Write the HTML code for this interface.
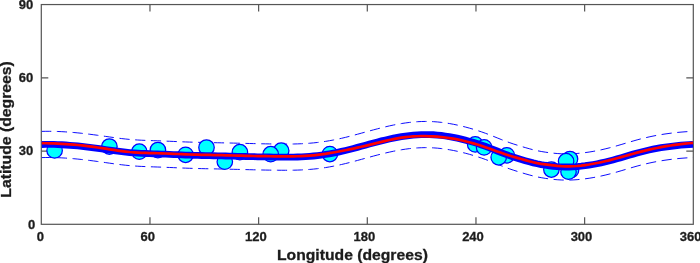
<!DOCTYPE html>
<html><head><meta charset="utf-8"><title>Latitude vs Longitude</title>
<style>html,body{margin:0;padding:0;background:#fff}svg{display:block}</style></head>
<body>
<svg width="700" height="263" viewBox="0 0 700 263">
<rect width="700" height="263" fill="#fff"/>
<g stroke="#555555" stroke-width="1.2" fill="none">
<rect x="41.3" y="4.55" width="652.0" height="219.75"/>
<path d="M149.97 224.3 v-7.0 M149.97 4.55 v7.0"/>
<path d="M258.63 224.3 v-7.0 M258.63 4.55 v7.0"/>
<path d="M367.30 224.3 v-7.0 M367.30 4.55 v7.0"/>
<path d="M475.97 224.3 v-7.0 M475.97 4.55 v7.0"/>
<path d="M584.63 224.3 v-7.0 M584.63 4.55 v7.0"/>
<path d="M41.3 151.05 h7.0 M693.3 151.05 h-7.0"/>
<path d="M41.3 77.80 h7.0 M693.3 77.80 h-7.0"/>
</g>
<g fill="none" stroke="#0000ff" stroke-width="0.95" stroke-dashoffset="0.7" stroke-dasharray="10.2 5.557">
<path d="M41.8 131.39 L45.8 131.31 L49.8 131.30 L53.8 131.36 L57.8 131.48 L61.8 131.66 L65.8 131.90 L69.8 132.18 L73.8 132.51 L77.8 132.89 L81.8 133.31 L85.7 133.76 L89.7 134.24 L93.7 134.75 L97.7 135.29 L101.7 135.84 L105.7 136.41 L109.7 136.98 L113.7 137.54 L117.7 138.08 L121.7 138.58 L125.7 139.03 L129.7 139.42 L133.7 139.75 L137.7 140.01 L141.7 140.23 L145.7 140.40 L149.7 140.55 L153.7 140.69 L157.7 140.82 L161.7 140.96 L165.6 141.12 L169.6 141.28 L173.6 141.45 L177.6 141.62 L181.6 141.79 L185.6 141.94 L189.6 142.09 L193.6 142.21 L197.6 142.32 L201.6 142.42 L205.6 142.51 L209.6 142.59 L213.6 142.67 L217.6 142.75 L221.6 142.83 L225.6 142.92 L229.6 143.01 L233.6 143.10 L237.6 143.20 L241.6 143.29 L245.5 143.39 L249.5 143.49 L253.5 143.59 L257.5 143.68 L261.5 143.77 L265.5 143.85 L269.5 143.92 L273.5 143.98 L277.5 144.03 L281.5 144.06 L285.5 144.07 L289.5 144.05 L293.5 143.99 L297.5 143.89 L301.5 143.73 L305.5 143.52 L309.5 143.24 L313.5 142.89 L317.5 142.46 L321.5 141.96 L325.5 141.38 L329.4 140.73 L333.4 140.00 L337.4 139.20 L341.4 138.33 L345.4 137.39 L349.4 136.39 L353.4 135.34 L357.4 134.26 L361.4 133.17 L365.4 132.06 L369.4 130.96 L373.4 129.88 L377.4 128.83 L381.4 127.81 L385.4 126.83 L389.4 125.91 L393.4 125.06 L397.4 124.27 L401.4 123.57 L405.4 122.96 L409.3 122.44 L413.3 122.02 L417.3 121.71 L421.3 121.52 L425.3 121.44 L429.3 121.48 L433.3 121.65 L437.3 121.95 L441.3 122.36 L445.3 122.89 L449.3 123.53 L453.3 124.26 L457.3 125.09 L461.3 126.00 L465.3 127.00 L469.3 128.08 L473.3 129.24 L477.3 130.49 L481.3 131.81 L485.3 133.22 L489.3 134.71 L493.2 136.28 L497.2 137.89 L501.2 139.49 L505.2 141.05 L509.2 142.53 L513.2 143.88 L517.2 145.15 L521.2 146.37 L525.2 147.57 L529.2 148.71 L533.2 149.77 L537.2 150.69 L541.2 151.47 L545.2 152.14 L549.2 152.70 L553.2 153.16 L557.2 153.53 L561.2 153.78 L565.2 153.90 L569.2 153.88 L573.1 153.73 L577.1 153.46 L581.1 153.08 L585.1 152.61 L589.1 152.05 L593.1 151.40 L597.1 150.66 L601.1 149.83 L605.1 148.92 L609.1 147.93 L613.1 146.87 L617.1 145.74 L621.1 144.57 L625.1 143.38 L629.1 142.18 L633.1 141.02 L637.1 139.89 L641.1 138.82 L645.1 137.84 L649.1 136.92 L653.0 136.08 L657.0 135.32 L661.0 134.62 L665.0 133.99 L669.0 133.43 L673.0 132.93 L677.0 132.49 L681.0 132.11 L685.0 131.79 L689.0 131.52 L693.0 131.31"/>
<path d="M41.8 157.59 L45.8 157.51 L49.8 157.50 L53.8 157.56 L57.8 157.68 L61.8 157.86 L65.8 158.10 L69.8 158.38 L73.8 158.71 L77.8 159.09 L81.8 159.51 L85.7 159.96 L89.7 160.44 L93.7 160.95 L97.7 161.49 L101.7 162.04 L105.7 162.61 L109.7 163.18 L113.7 163.74 L117.7 164.28 L121.7 164.78 L125.7 165.23 L129.7 165.62 L133.7 165.95 L137.7 166.21 L141.7 166.43 L145.7 166.60 L149.7 166.75 L153.7 166.89 L157.7 167.02 L161.7 167.16 L165.6 167.32 L169.6 167.48 L173.6 167.65 L177.6 167.82 L181.6 167.99 L185.6 168.14 L189.6 168.29 L193.6 168.41 L197.6 168.52 L201.6 168.62 L205.6 168.71 L209.6 168.79 L213.6 168.87 L217.6 168.95 L221.6 169.03 L225.6 169.12 L229.6 169.21 L233.6 169.30 L237.6 169.40 L241.6 169.49 L245.5 169.59 L249.5 169.69 L253.5 169.79 L257.5 169.88 L261.5 169.97 L265.5 170.05 L269.5 170.12 L273.5 170.18 L277.5 170.23 L281.5 170.26 L285.5 170.27 L289.5 170.25 L293.5 170.19 L297.5 170.09 L301.5 169.93 L305.5 169.72 L309.5 169.44 L313.5 169.09 L317.5 168.66 L321.5 168.16 L325.5 167.58 L329.4 166.93 L333.4 166.20 L337.4 165.40 L341.4 164.53 L345.4 163.59 L349.4 162.59 L353.4 161.54 L357.4 160.46 L361.4 159.37 L365.4 158.26 L369.4 157.16 L373.4 156.08 L377.4 155.03 L381.4 154.01 L385.4 153.03 L389.4 152.11 L393.4 151.26 L397.4 150.47 L401.4 149.77 L405.4 149.16 L409.3 148.64 L413.3 148.22 L417.3 147.91 L421.3 147.72 L425.3 147.64 L429.3 147.68 L433.3 147.85 L437.3 148.15 L441.3 148.56 L445.3 149.09 L449.3 149.73 L453.3 150.46 L457.3 151.29 L461.3 152.20 L465.3 153.20 L469.3 154.28 L473.3 155.44 L477.3 156.69 L481.3 158.01 L485.3 159.42 L489.3 160.91 L493.2 162.48 L497.2 164.09 L501.2 165.69 L505.2 167.25 L509.2 168.73 L513.2 170.08 L517.2 171.35 L521.2 172.57 L525.2 173.77 L529.2 174.91 L533.2 175.97 L537.2 176.89 L541.2 177.67 L545.2 178.34 L549.2 178.90 L553.2 179.36 L557.2 179.73 L561.2 179.98 L565.2 180.10 L569.2 180.08 L573.1 179.93 L577.1 179.66 L581.1 179.28 L585.1 178.81 L589.1 178.25 L593.1 177.60 L597.1 176.86 L601.1 176.03 L605.1 175.12 L609.1 174.13 L613.1 173.07 L617.1 171.94 L621.1 170.77 L625.1 169.58 L629.1 168.38 L633.1 167.22 L637.1 166.09 L641.1 165.02 L645.1 164.04 L649.1 163.12 L653.0 162.28 L657.0 161.52 L661.0 160.82 L665.0 160.19 L669.0 159.63 L673.0 159.13 L677.0 158.69 L681.0 158.31 L685.0 157.99 L689.0 157.72 L693.0 157.51"/>
</g>
<g fill="#00ffff" stroke="#0000ff" stroke-width="1.25">
<circle cx="54.6" cy="150.4" r="7.75"/>
<circle cx="109.4" cy="146.5" r="7.75"/>
<circle cx="139.3" cy="151.7" r="7.75"/>
<circle cx="157.9" cy="150.0" r="7.75"/>
<circle cx="185.6" cy="154.8" r="7.75"/>
<circle cx="206.5" cy="147.5" r="7.75"/>
<circle cx="224.8" cy="161.7" r="7.75"/>
<circle cx="239.9" cy="152.2" r="7.75"/>
<circle cx="281.2" cy="150.7" r="7.75"/>
<circle cx="270.7" cy="154.2" r="7.75"/>
<circle cx="329.9" cy="154.05" r="7.75"/>
<circle cx="475.2" cy="144.4" r="7.75"/>
<circle cx="484.1" cy="147.4" r="7.75"/>
<circle cx="506.8" cy="155.3" r="7.75"/>
<circle cx="498.7" cy="157.3" r="7.75"/>
<circle cx="551.4" cy="169.5" r="7.75"/>
<circle cx="571" cy="170.2" r="7.75"/>
<circle cx="568.5" cy="171.7" r="7.75"/>
<circle cx="570" cy="159" r="7.75"/>
<circle cx="566.1" cy="161.2" r="7.75"/>
</g>
<path d="M41.8 144.49 L45.8 144.41 L49.8 144.40 L53.8 144.46 L57.8 144.58 L61.8 144.76 L65.8 145.00 L69.8 145.28 L73.8 145.61 L77.8 145.99 L81.8 146.41 L85.7 146.86 L89.7 147.34 L93.7 147.85 L97.7 148.39 L101.7 148.94 L105.7 149.51 L109.7 150.08 L113.7 150.64 L117.7 151.18 L121.7 151.68 L125.7 152.13 L129.7 152.52 L133.7 152.85 L137.7 153.11 L141.7 153.33 L145.7 153.50 L149.7 153.65 L153.7 153.79 L157.7 153.92 L161.7 154.06 L165.6 154.22 L169.6 154.38 L173.6 154.55 L177.6 154.72 L181.6 154.89 L185.6 155.04 L189.6 155.19 L193.6 155.31 L197.6 155.42 L201.6 155.52 L205.6 155.61 L209.6 155.69 L213.6 155.77 L217.6 155.85 L221.6 155.93 L225.6 156.02 L229.6 156.11 L233.6 156.20 L237.6 156.30 L241.6 156.39 L245.5 156.49 L249.5 156.59 L253.5 156.69 L257.5 156.78 L261.5 156.87 L265.5 156.95 L269.5 157.02 L273.5 157.08 L277.5 157.13 L281.5 157.16 L285.5 157.17 L289.5 157.15 L293.5 157.09 L297.5 156.99 L301.5 156.83 L305.5 156.62 L309.5 156.34 L313.5 155.99 L317.5 155.56 L321.5 155.06 L325.5 154.48 L329.4 153.83 L333.4 153.10 L337.4 152.30 L341.4 151.43 L345.4 150.49 L349.4 149.49 L353.4 148.44 L357.4 147.36 L361.4 146.27 L365.4 145.16 L369.4 144.06 L373.4 142.98 L377.4 141.93 L381.4 140.91 L385.4 139.93 L389.4 139.01 L393.4 138.16 L397.4 137.37 L401.4 136.67 L405.4 136.06 L409.3 135.54 L413.3 135.12 L417.3 134.81 L421.3 134.62 L425.3 134.54 L429.3 134.58 L433.3 134.75 L437.3 135.05 L441.3 135.46 L445.3 135.99 L449.3 136.63 L453.3 137.36 L457.3 138.19 L461.3 139.10 L465.3 140.10 L469.3 141.18 L473.3 142.34 L477.3 143.59 L481.3 144.91 L485.3 146.32 L489.3 147.81 L493.2 149.38 L497.2 150.99 L501.2 152.59 L505.2 154.15 L509.2 155.63 L513.2 156.98 L517.2 158.25 L521.2 159.47 L525.2 160.67 L529.2 161.81 L533.2 162.87 L537.2 163.79 L541.2 164.57 L545.2 165.24 L549.2 165.80 L553.2 166.26 L557.2 166.63 L561.2 166.88 L565.2 167.00 L569.2 166.98 L573.1 166.83 L577.1 166.56 L581.1 166.18 L585.1 165.71 L589.1 165.15 L593.1 164.50 L597.1 163.76 L601.1 162.93 L605.1 162.02 L609.1 161.03 L613.1 159.97 L617.1 158.84 L621.1 157.67 L625.1 156.48 L629.1 155.28 L633.1 154.12 L637.1 152.99 L641.1 151.92 L645.1 150.94 L649.1 150.02 L653.0 149.18 L657.0 148.42 L661.0 147.72 L665.0 147.09 L669.0 146.53 L673.0 146.03 L677.0 145.59 L681.0 145.21 L685.0 144.89 L689.0 144.62 L693.0 144.41" fill="none" stroke="#0000ff" stroke-width="6.8"/>
<path d="M41.8 143.20 L45.8 143.23 L49.8 143.30 L53.8 143.42 L57.8 143.59 L61.8 143.79 L65.8 144.04 L69.8 144.33 L73.8 144.66 L77.8 145.03 L81.8 145.45 L85.7 145.89 L89.7 146.38 L93.7 146.91 L97.7 147.47 L101.7 148.06 L105.7 148.68 L109.7 149.32 L113.7 149.94 L117.7 150.54 L121.7 151.10 L125.7 151.60 L129.7 152.02 L133.7 152.35 L137.7 152.60 L141.7 152.79 L145.7 152.93 L149.7 153.04 L153.7 153.14 L157.7 153.23 L161.7 153.35 L165.6 153.49 L169.6 153.65 L173.6 153.83 L177.6 154.00 L181.6 154.18 L185.6 154.34 L189.6 154.49 L193.6 154.61 L197.6 154.72 L201.6 154.81 L205.6 154.88 L209.6 154.96 L213.6 155.03 L217.6 155.10 L221.6 155.18 L225.6 155.28 L229.6 155.37 L233.6 155.48 L237.6 155.58 L241.6 155.69 L245.5 155.79 L249.5 155.89 L253.5 155.98 L257.5 156.06 L261.5 156.13 L265.5 156.19 L269.5 156.25 L273.5 156.29 L277.5 156.33 L281.5 156.36 L285.5 156.37 L289.5 156.37 L293.5 156.33 L297.5 156.24 L301.5 156.11 L305.5 155.91 L309.5 155.64 L313.5 155.29 L317.5 154.86 L321.5 154.36 L325.5 153.80 L329.4 153.17 L333.4 152.50 L337.4 151.78 L341.4 151.03 L345.4 150.24 L349.4 149.42 L353.4 148.56 L357.4 147.68 L361.4 146.76 L365.4 145.82 L369.4 144.85 L373.4 143.85 L377.4 142.84 L381.4 141.84 L385.4 140.87 L389.4 139.95 L393.4 139.10 L397.4 138.34 L401.4 137.69 L405.4 137.17 L409.3 136.76 L413.3 136.46 L417.3 136.27 L421.3 136.18 L425.3 136.18 L429.3 136.28 L433.3 136.46 L437.3 136.72 L441.3 137.08 L445.3 137.53 L449.3 138.07 L453.3 138.70 L457.3 139.44 L461.3 140.28 L465.3 141.22 L469.3 142.25 L473.3 143.37 L477.3 144.57 L481.3 145.83 L485.3 147.16 L489.3 148.54 L493.2 149.96 L497.2 151.40 L501.2 152.84 L505.2 154.25 L509.2 155.56 L513.2 156.74 L517.2 157.83 L521.2 158.94 L525.2 160.10 L529.2 161.24 L533.2 162.28 L537.2 163.16 L541.2 163.86 L545.2 164.44 L549.2 164.95 L553.2 165.43 L557.2 165.87 L561.2 166.21 L565.2 166.40 L569.2 166.42 L573.1 166.27 L577.1 165.98 L581.1 165.57 L585.1 165.07 L589.1 164.48 L593.1 163.79 L597.1 163.03 L601.1 162.20 L605.1 161.29 L609.1 160.33 L613.1 159.30 L617.1 158.23 L621.1 157.12 L625.1 156.00 L629.1 154.88 L633.1 153.76 L637.1 152.67 L641.1 151.63 L645.1 150.63 L649.1 149.68 L653.0 148.79 L657.0 147.95 L661.0 147.16 L665.0 146.43 L669.0 145.76 L673.0 145.14 L677.0 144.58 L681.0 144.07 L685.0 143.63 L689.0 143.25 L693.0 142.92" fill="none" stroke="#ff0000" stroke-width="2.7"/>
<g font-family="'Liberation Sans', Arial, sans-serif" font-weight="bold" fill="#1c1c1c" stroke="#1c1c1c" stroke-width="0.3">
<g font-size="13px" text-anchor="end">
<text x="33.3" y="9.05">90</text>
<text x="33.3" y="82.2">60</text>
<text x="33.3" y="155.4">30</text>
<text x="35.2" y="228.5">0</text>
</g>
<g font-size="13px" text-anchor="middle">
<text x="40.4" y="240.5">0</text>
<text x="147.8" y="240.5">60</text>
<text x="255.8" y="240.5">120</text>
<text x="364.4" y="240.5">180</text>
<text x="473.0" y="240.5">240</text>
<text x="581.5" y="240.5">300</text>
<text x="690.7" y="240.5">360</text>
</g>
<text transform="translate(352.45 260.1) scale(1.026 1)" font-size="15.3px" text-anchor="middle">Longitude (degrees)</text>
<text transform="translate(11.4 129.4) rotate(-90) scale(1.03 1)" font-size="15.3px" text-anchor="middle">Latitude (degrees)</text>
</g>
</svg>
</body></html>
